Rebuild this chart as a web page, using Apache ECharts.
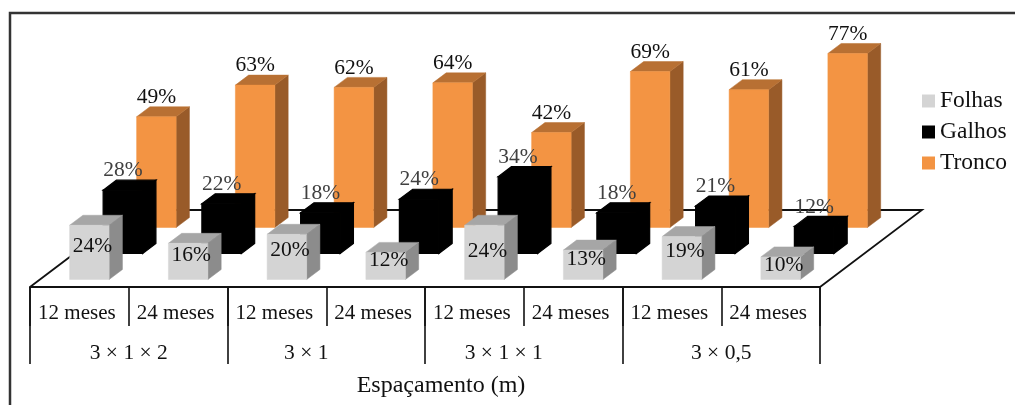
<!DOCTYPE html>
<html>
<head>
<meta charset="utf-8">
<style>html,body{margin:0;padding:0;background:#fff}#chart{width:1015px;height:405px}</style>
<script src="https://cdn.jsdelivr.net/npm/echarts@6/dist/echarts.min.js"></script>
</head>
<body>
<div id="chart"></div>
<script>
// Biomass share by plant compartment, per spacing and age
const ages = ['12 meses','24 meses','12 meses','24 meses','12 meses','24 meses','12 meses','24 meses'];
const spacings = ['3 × 1 × 2','3 × 1','3 × 1 × 1','3 × 0,5'];
const folhas = [24,16,20,12,24,13,19,10];
const galhos = [28,22,18,24,34,18,21,12];
const tronco = [49,63,62,64,42,69,61,77];

const SERIF = '"Liberation Serif","Times New Roman",serif';
const chart = echarts.init(document.getElementById('chart'));

// Oblique projection used for the pseudo-3D floor and boxes
const ROW = {dx: 33.5, dy: -26, x0: 10, y0: -7.5};
const BOX = {dx: 13.3, dy: 10, widthRatio: 0.4};
const FLOOR = {dx: 102, dy: -77};
// Extra drop for labels inside the front row of boxes
const FRONT_LABEL_DROP = [0, 0, 0, 1, 5, 1, 0, 4];

function floorRender(params, api) {
  const band = api.size([1, 0])[0];
  const a = api.coord([0, 0]);
  const b = api.coord([ages.length - 1, 0]);
  const xl = a[0] - band / 2, xr = b[0] + band / 2, y = a[1];
  return {
    type: 'polyline',
    shape: {points: [[xl, y], [xl + FLOOR.dx, y + FLOOR.dy], [xr + FLOOR.dx, y + FLOOR.dy], [xr, y]]},
    style: {fill: null, stroke: '#111', lineWidth: 1.8}
  };
}

function boxRender(row, colors, labelColor, labelPlace) {
  return function (params, api) {
    const i = api.value(0), v = api.value(1);
    const band = api.size([1, 0])[0];
    const w = band * BOX.widthRatio;
    const base = api.coord([i, 0]), top = api.coord([i, v]);
    const x0 = base[0] + ROW.x0 + row * ROW.dx - w / 2, x1 = x0 + w;
    const yb = base[1] + ROW.y0 + row * ROW.dy;
    const yt = yb - (base[1] - top[1]);
    const edge = colors.edge || 0.5;
    const poly = (pts, fill) => ({type: 'polygon', shape: {points: pts}, style: {fill: fill, stroke: fill, lineWidth: edge}});
    const lp = labelPlace(x0, x1, yt, yb, i);
    return {
      type: 'group',
      children: [
        poly([[x1, yt], [x1 + BOX.dx, yt - BOX.dy], [x1 + BOX.dx, yb - BOX.dy], [x1, yb]], colors.side),
        poly([[x0, yt], [x0 + BOX.dx, yt - BOX.dy], [x1 + BOX.dx, yt - BOX.dy], [x1, yt]], colors.top),
        poly([[x0, yt], [x1, yt], [x1, yb], [x0, yb]], colors.front),
        {
          type: 'text',
          z2: 10,
          style: {
            text: v + '%', x: lp[0], y: lp[1],
            textAlign: 'center', textVerticalAlign: 'middle',
            font: '21.5px ' + SERIF, fill: labelColor
          }
        }
      ]
    };
  };
}

const above = (x0, x1, yt) => [(x0 + x1) / 2, yt - 19.5];
const inside = (x0, x1, yt, yb, i) => [(x0 + x1) / 2 + 3, (yt + yb) / 2 - 6.5 + FRONT_LABEL_DROP[i]];

const toData = arr => arr.map((v, i) => [i, v]);

chart.setOption({
  animation: false,
  backgroundColor: '#fff',
  graphic: [{
    type: 'polyline',
    shape: {points: [[10, 405], [10, 13], [1015, 13]]},
    style: {fill: null, stroke: '#333', lineWidth: 2.5},
    silent: true
  }],
  grid: {left: 30, width: 790, top: 61, height: 226, containLabel: false},
  legend: {
    orient: 'vertical', left: 917, top: 84, itemWidth: 13, itemHeight: 13, itemGap: 7,
    icon: 'rect', selectedMode: false,
    data: ['Folhas', 'Galhos', 'Tronco'],
    textStyle: {fontFamily: SERIF, fontSize: 23.5, color: '#111'}
  },
  xAxis: [{
    type: 'category', data: ages, position: 'bottom',
    axisLine: {show: true, lineStyle: {color: '#111', width: 1.8}},
    axisTick: {show: true, length: 39, lineStyle: {color: '#111', width: 1.6}},
    axisLabel: {interval: 0, margin: 16, color: '#111', fontFamily: SERIF, fontSize: 21, hideOverlap: false, padding: [0, 5, 0, 0]}
  }, {
    type: 'category', data: spacings, position: 'bottom',
    axisLine: {show: false},
    axisTick: {show: true, length: 77, lineStyle: {color: '#111', width: 1.6}},
    axisLabel: {
      interval: 0, margin: 55, color: '#111', fontFamily: SERIF, fontSize: 21.5, hideOverlap: false,
      formatter: (value, idx) => (idx === 1 || idx === 2) ? '{mid|' + value + '}' : value,
      rich: {mid: {fontFamily: SERIF, fontSize: 21.5, color: '#111', padding: [0, 40, 0, 0]}}
    },
    name: 'Espaçamento (m)', nameLocation: 'middle', nameGap: 87,
    nameTextStyle: {fontFamily: SERIF, fontSize: 24, color: '#111', padding: [0, 0, 0, 32]}
  }],
  yAxis: {type: 'value', min: 0, max: 100, show: false},
  series: [{
    type: 'custom', name: 'Piso', data: [[0, 0]], renderItem: floorRender,
    encode: {x: 0, y: 1}, silent: true
  }, {
    type: 'custom', name: 'Tronco', data: toData(tronco), encode: {x: 0, y: 1},
    itemStyle: {color: '#F39443'},
    renderItem: boxRender(2, {front: '#F39443', top: '#B87033', side: '#995B29'}, '#111', above)
  }, {
    type: 'custom', name: 'Galhos', data: toData(galhos), encode: {x: 0, y: 1},
    itemStyle: {color: '#000'},
    renderItem: boxRender(1, {front: '#000', top: '#000', side: '#000', edge: 1.2}, '#404040', above)
  }, {
    type: 'custom', name: 'Folhas', data: toData(folhas), encode: {x: 0, y: 1},
    itemStyle: {color: '#D4D4D4'},
    renderItem: boxRender(0, {front: '#D4D4D4', top: '#A6A6A6', side: '#8C8C8C'}, '#111', inside)
  }]
});
</script>
</body>
</html>
